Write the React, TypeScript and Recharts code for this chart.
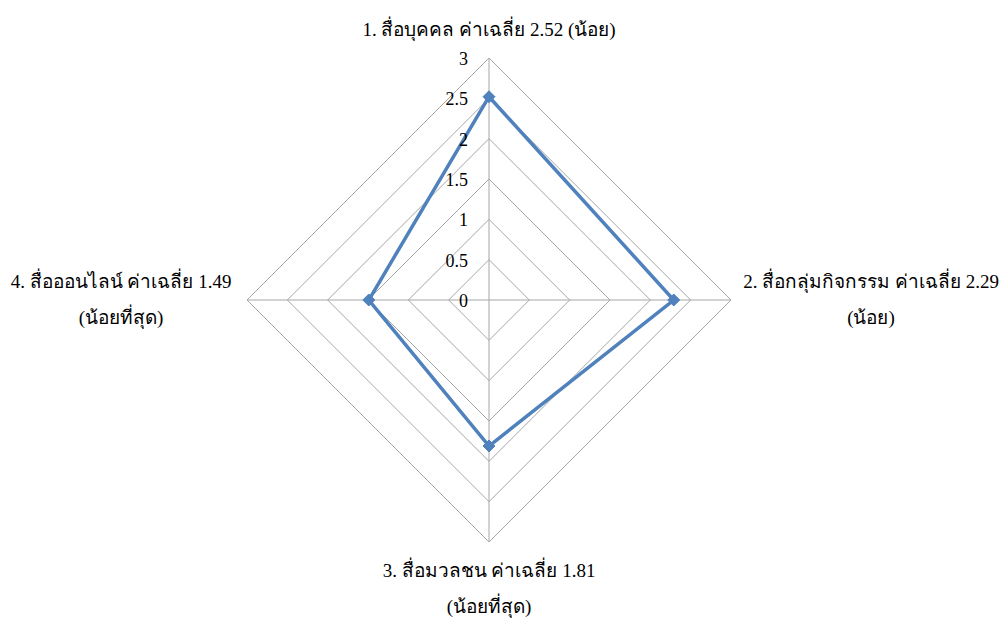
import { RadarChart, Radar, PolarGrid, PolarAngleAxis, PolarRadiusAxis } from 'recharts';

const categoryLines: string[][] = [
  ['1. สื่อบุคคล ค่าเฉลี่ย 2.52 (น้อย)'],
  ['2. สื่อกลุ่มกิจกรรม ค่าเฉลี่ย 2.29', '(น้อย)'],
  ['3. สื่อมวลชน ค่าเฉลี่ย 1.81', '(น้อยที่สุด)'],
  ['4. สื่อออนไลน์ ค่าเฉลี่ย 1.49', '(น้อยที่สุด)'],
];
const categoryKeys = ['c1', 'c2', 'c3', 'c4'];
const meanValues = [2.52, 2.29, 1.81, 1.49];
const radiusTicks = [0, 0.5, 1, 1.5, 2, 2.5, 3];

const data = categoryKeys.map((key, i) => ({ key, idx: i, value: meanValues[i] }));

const FONT = 'Liberation Serif, Times New Roman, DejaVu Serif, serif';
const LINE_COLOR = '#4f81bd';
const GRID_COLOR = '#a6a6a6';

// label placement around the polygon: [dx, dy of first baseline]
const labelOffsets = [
  { dx: 0, dy: -14 },
  { dx: 132, dy: -12 },
  { dx: 0, dy: 27 },
  { dx: -118, dy: -12 },
];
const LINE_GAP = 36;

const AngleTick = (props: any) => {
  const { x, y, payload, index } = props;
  const i = typeof index === 'number' ? index : categoryKeys.indexOf(payload.value);
  const lines = categoryLines[i];
  const off = labelOffsets[i];
  return (
    <g>
      {lines.map((line, k) => (
        <text
          key={k}
          x={x + off.dx}
          y={y + off.dy + k * LINE_GAP}
          textAnchor="middle"
          style={{ fontFamily: FONT, fontSize: 19 }}
          fill="#000"
        >
          {line}
        </text>
      ))}
    </g>
  );
};

const RadiusTick = (props: any) => {
  const { x, y, payload } = props;
  return (
    <text x={x - 21} y={y + 7} textAnchor="end" style={{ fontFamily: FONT, fontSize: 18 }} fill="#000">
      {payload.value}
    </text>
  );
};

const DiamondDot = (props: any) => {
  const { cx, cy } = props;
  const s = 6;
  return (
    <polygon
      points={`${cx},${cy - s} ${cx + s},${cy} ${cx},${cy + s} ${cx - s},${cy}`}
      fill={LINE_COLOR}
      stroke={LINE_COLOR}
    />
  );
};

export default function App() {
  return (
    <div style={{ position: 'absolute', left: 0, top: 0, width: 999, height: 619, background: '#fff' }}>
      <RadarChart
        width={999}
        height={619}
        data={data}
        cx={489}
        cy={300}
        outerRadius={242}
        margin={{ top: 0, right: 0, bottom: 0, left: 0 }}
      >
        <PolarGrid gridType="polygon" stroke={GRID_COLOR} strokeWidth={1} />
        <PolarAngleAxis dataKey="key" tick={<AngleTick />} tickLine={false} axisLine={false} />
        <PolarRadiusAxis
          angle={90}
          domain={[0, 3]}
          ticks={radiusTicks}
          tick={<RadiusTick />}
          axisLine={false}
          tickLine={false}
        />
        <Radar
          dataKey="value"
          stroke={LINE_COLOR}
          strokeWidth={3.5}
          fill="none"
          fillOpacity={0}
          dot={<DiamondDot />}
          isAnimationActive={false}
        />
      </RadarChart>
    </div>
  );
}
